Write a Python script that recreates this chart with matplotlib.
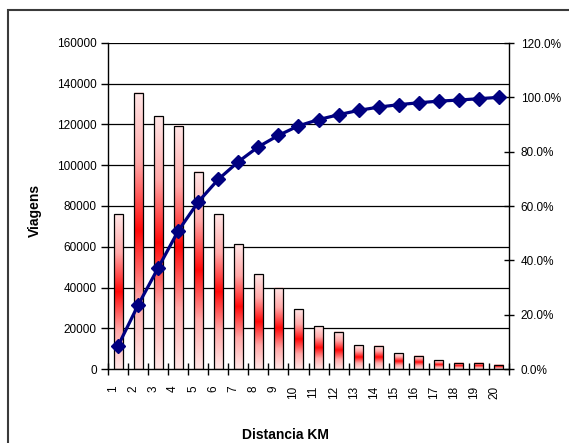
import numpy as np
import matplotlib.pyplot as plt
import matplotlib.patches as mpatches
import matplotlib.transforms as mtransforms
from matplotlib.colors import LinearSegmentedColormap
from matplotlib.ticker import FixedLocator, FuncFormatter

plt.rcParams['font.family'] = ['Liberation Sans', 'DejaVu Sans']

# dados
distancias = list(range(1, 21))
viagens = [76000, 135500, 124000, 119500, 96700, 76000, 61200, 46500, 39800, 29300,
           21100, 18300, 11600, 11500, 7700, 6400, 4400, 3100, 3000, 2100]
acumulado = [8.5, 23.5, 37.2, 50.8, 61.5, 69.8, 76.3, 81.8, 86.0, 89.5,
             91.8, 93.6, 95.2, 96.4, 97.3, 98.0, 98.6, 99.0, 99.5, 100.0]
yticks_esq = [0, 20000, 40000, 60000, 80000, 100000, 120000, 140000, 160000]
yticks_dir = [0, 20, 40, 60, 80, 100, 120]

W, H = 569, 443
fig = plt.figure(figsize=(W / 100, H / 100), dpi=100)
ax = fig.add_axes([108 / W, 1 - 369 / H, (509 - 108) / W, (369 - 43) / H])
ax2 = ax.twinx()

# moldura externa
fig.patches.append(mpatches.Rectangle((8 / W, -0.1), 1.2, 1 - 10 / H + 0.1,
                                      transform=fig.transFigure, fill=False,
                                      ec='#3a3a3a', lw=1.5, clip_on=False))

# grade horizontal
for v in yticks_esq[1:]:
    ax.axhline(v, color='black', lw=0.9, zorder=1)

# barras com degrade (claro nas pontas, vermelho no meio)
cmap = LinearSegmentedColormap.from_list(
    'rosa', [(0, '#ffe6e6'), (0.25, '#ffa8a8'), (0.5, '#ff0808'),
             (0.75, '#ffa8a8'), (1, '#ffe6e6')])
grad = np.linspace(0, 1, 256).reshape(-1, 1)
bars = ax.bar(distancias, viagens, width=0.45, facecolor='none', edgecolor='black',
              linewidth=0.9, zorder=3)
for b in bars:
    x0, w, h = b.get_x(), b.get_width(), b.get_height()
    ax.imshow(grad, cmap=cmap, extent=[x0, x0 + w, 0, h], aspect='auto',
              origin='lower', zorder=2, interpolation='bilinear')
ax.set_xlim(0.5, 20.5)
ax.set_ylim(0, 160000)
ax2.set_ylim(0, 120)

# linha acumulada
ax2.plot(distancias, acumulado, color='#000080', lw=2.3, marker='D', markersize=7,
         zorder=5)

# eixos
for a in (ax, ax2):
    a.spines['top'].set_visible(False)
ax.spines['right'].set_visible(False)
ax2.spines['left'].set_visible(False)
ax2.spines['bottom'].set_visible(False)
for s in ('left', 'bottom'):
    ax.spines[s].set_linewidth(1.0)
ax2.spines['right'].set_linewidth(1.0)

ax.set_yticks(yticks_esq)
ax.set_yticklabels([str(v) for v in yticks_esq])
ax.tick_params(axis='y', direction='out', length=5, width=1, labelsize=8.5, pad=3)

ax2.set_yticks(yticks_dir)
ax2.yaxis.set_major_formatter(FuncFormatter(lambda v, p: f'{v:.1f}%'))
ax2.tick_params(axis='y', direction='inout', length=7, width=1, labelsize=8.5, pad=5)

ax.set_xticks(distancias)
ax.set_xticklabels([str(d) for d in distancias], rotation=90)
ax.xaxis.set_minor_locator(FixedLocator(np.arange(0.5, 21, 1)))
ax.tick_params(axis='x', which='major', length=0, labelsize=8.5, pad=12)
ax.tick_params(axis='x', which='minor', direction='inout', length=8, width=1)
offset = mtransforms.ScaledTranslation(-0.05, 0, fig.dpi_scale_trans)
for lab in ax.get_xticklabels():
    lab.set_transform(lab.get_transform() + offset)

ax.set_zorder(ax2.get_zorder() - 1)
ax2.patch.set_visible(False)

fig.text(35 / W, 1 - 210 / H, 'Viagens', rotation=90, ha='center', va='center',
         fontsize=10, fontweight='bold')
fig.text(285 / W, 1 - 435 / H, 'Distancia KM', ha='center', va='center',
         fontsize=10, fontweight='bold')

fig.savefig('out.png', dpi=100)
